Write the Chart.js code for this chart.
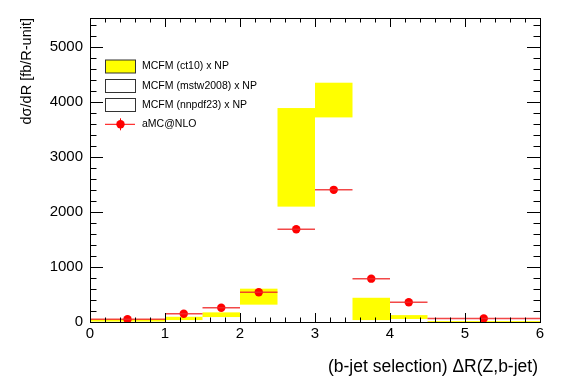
<!DOCTYPE html>
<html>
<head>
<meta charset="utf-8">
<script src="https://cdn.jsdelivr.net/npm/chart.js@4"></script>
<style>
  html, body { margin: 0; padding: 0; background: #fff; }
  canvas { display: block; }
</style>
</head>
<body>
<canvas id="dr" width="567" height="384"></canvas>
<script>
// bins in delta R (variable width)
const binLo = [0, 1, 1.5, 2, 2.5, 3, 3.5, 4, 4.5];
const binHi = [1, 1.5, 2, 2.5, 3, 3.5, 4, 4.5, 6];

// MCFM (ct10) x NP uncertainty band
const ct10Lo = [8, 35, 90, 315, 2095, 3715, 35, 55, 2];
const ct10Hi = [48, 95, 175, 605, 3885, 4345, 440, 125, 18];

// aMC@NLO points
const amcX = [0.5, 1.25, 1.75, 2.25, 2.75, 3.25, 3.75, 4.25, 5.25];
const amcY = [50, 150, 260, 540, 1685, 2400, 787, 358, 65];

// axis tick labels
const xTicks = [0, 1, 2, 3, 4, 5, 6];
const yTicks = [0, 1000, 2000, 3000, 4000, 5000];

const legendLabels = ['MCFM (ct10) x NP', 'MCFM (mstw2008) x NP', 'MCFM (nnpdf23) x NP', 'aMC@NLO'];
const xTitle = '(b-jet selection) \u0394R(Z,b-jet)';
const yTitle = 'd\u03c3/dR [fb/R-unit]';

const FONT = '"Liberation Sans", Arial, Helvetica, sans-serif';
const RED = '#ff0000';
const YELLOW = '#ffff00';

// horizontal error bars: one segment per bin, gaps between
const errBars = [];
amcY.forEach((v, i) => {
  errBars.push({ x: binLo[i], y: v }, { x: binHi[i], y: v }, { x: binHi[i], y: null });
});

/**
 * Yellow band boxes, under the markers
 */
const bandPlugin = {
  id: 'bands',
  beforeDatasetsDraw(chart) {
    const { ctx, scales: { x, y } } = chart;
    ctx.save();
    ctx.fillStyle = YELLOW;
    binLo.forEach((lo, i) => {
      const x0 = x.getPixelForValue(lo);
      const x1 = x.getPixelForValue(binHi[i]);
      const y0 = y.getPixelForValue(ct10Hi[i]);
      const y1 = y.getPixelForValue(ct10Lo[i]);
      ctx.fillRect(x0, y0, x1 - x0, y1 - y0);
    });
    ctx.restore();
  },
};

/**
 * ROOT style frame: ticks inside on all four sides, titles, legend
 */
const framePlugin = {
  id: 'frame',
  afterDatasetsDraw(chart) {
    const { ctx, chartArea: a, scales: { x, y } } = chart;
    ctx.save();
    ctx.strokeStyle = '#000';
    ctx.lineWidth = 1;
    ctx.strokeRect(a.left + 0.5, a.top + 0.5, a.right - a.left, a.bottom - a.top);

    ctx.beginPath();
    // x ticks every 0.2, major at integers
    for (let k = 0; k <= 30; k++) {
      const px = Math.round(x.getPixelForValue(k * 0.2)) + 0.5;
      const len = k % 5 === 0 ? 9 : 4.5;
      ctx.moveTo(px, a.bottom); ctx.lineTo(px, a.bottom - len);
      ctx.moveTo(px, a.top); ctx.lineTo(px, a.top + len);
    }
    // y ticks every 200, major at 1000
    for (let v = 0; v <= y.max; v += 200) {
      const py = Math.round(y.getPixelForValue(v)) + 0.5;
      const len = v % 1000 === 0 ? 13 : 6.5;
      ctx.moveTo(a.left, py); ctx.lineTo(a.left + len, py);
      ctx.moveTo(a.right, py); ctx.lineTo(a.right - len, py);
    }
    ctx.stroke();

    // axis titles
    ctx.fillStyle = '#000';
    ctx.textAlign = 'right';
    ctx.textBaseline = 'middle';
    ctx.font = '17.5px ' + FONT;
    ctx.fillText(xTitle, 538, 367);
    ctx.font = '14.5px ' + FONT;
    ctx.translate(27, 18);
    ctx.rotate(-Math.PI / 2);
    ctx.fillText(yTitle, 0, 0);
    ctx.setTransform(1, 0, 0, 1, 0, 0);

    // legend
    ctx.font = '10.5px ' + FONT;
    ctx.textAlign = 'left';
    const rowY = [66.5, 86, 105, 124.3];
    rowY.forEach((ry, i) => {
      if (i < 3) {
        ctx.fillStyle = i === 0 ? YELLOW : '#fff';
        ctx.fillRect(105, ry - 6.5, 30, 13);
        ctx.strokeStyle = '#333';
        ctx.strokeRect(105.5, ry - 6.5, 30, 13);
      } else {
        ctx.strokeStyle = RED;
        ctx.beginPath();
        ctx.moveTo(105, ry); ctx.lineTo(135, ry);
        ctx.moveTo(120.5, ry - 6); ctx.lineTo(120.5, ry + 6);
        ctx.stroke();
        ctx.fillStyle = RED;
        ctx.beginPath();
        ctx.arc(120.5, ry, 4.2, 0, Math.PI * 2);
        ctx.fill();
      }
      ctx.fillStyle = '#000';
      ctx.fillText(legendLabels[i], 142, ry);
    });
    ctx.restore();
  },
};

new Chart(document.getElementById('dr'), {
  type: 'scatter',
  data: {
    datasets: [
      {
        type: 'line',
        data: errBars,
        borderColor: 'rgba(240,40,40,0.85)',
        borderWidth: 1.5,
        pointRadius: 0,
        spanGaps: false,
        fill: false,
      },
      {
        data: amcX.map((v, i) => ({ x: v, y: amcY[i] })),
        backgroundColor: RED,
        borderWidth: 0,
        pointRadius: 4.2,
      },
    ],
  },
  options: {
    responsive: false,
    animation: false,
    devicePixelRatio: 1,
    layout: { padding: { left: 0, right: 27, top: 18, bottom: 0 } },
    plugins: {
      legend: { display: false },
      tooltip: { enabled: false },
    },
    scales: {
      x: {
        type: 'linear',
        min: 0,
        max: 6,
        grid: { display: false, drawTicks: false },
        border: { display: false },
        ticks: {
          padding: 3,
          color: '#000',
          maxRotation: 0,
          autoSkip: false,
          font: { family: FONT, size: 15 },
          callback: (v) => String(v),
        },
        afterBuildTicks: (s) => { s.ticks = xTicks.map((v) => ({ value: v })); },
        afterFit: (s) => { s.height = 62; },
      },
      y: {
        min: 0,
        max: 5520,
        grid: { display: false, drawTicks: false },
        border: { display: false },
        ticks: {
          padding: 7,
          color: '#000',
          autoSkip: false,
          font: { family: FONT, size: 15 },
          callback: (v) => String(v),
        },
        afterBuildTicks: (s) => { s.ticks = yTicks.map((v) => ({ value: v })); },
        afterFit: (s) => { s.width = 90; },
      },
    },
  },
  plugins: [bandPlugin, framePlugin],
});
</script>
</body>
</html>
